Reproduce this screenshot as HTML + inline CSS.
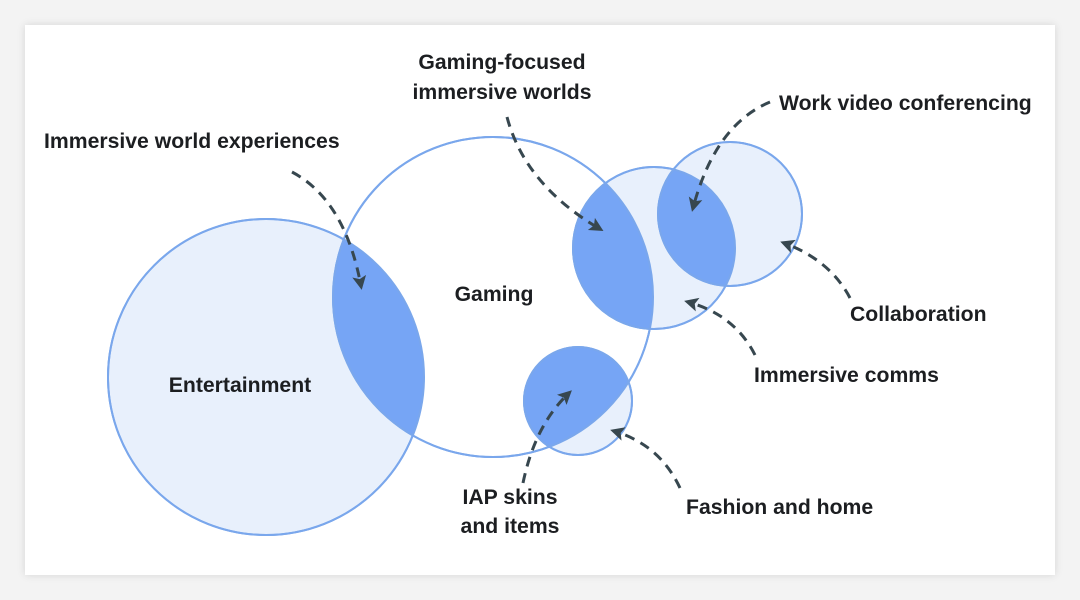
<!DOCTYPE html>
<html><head><style>
body{margin:0;width:1080px;height:600px;background:#f3f3f3;overflow:hidden}
.card{position:absolute;left:25px;top:25px;width:1030px;height:550px;background:#fff;box-shadow:0 0 8px rgba(0,0,0,0.12)}
svg{position:absolute;left:0;top:0}
text{font-family:"Liberation Sans",sans-serif;font-weight:bold;font-size:21.2px;fill:#1c1e21}
</style></head><body>
<div class="card"></div>
<svg width="1080" height="600" viewBox="0 0 1080 600">
<defs>
<clipPath id="cg"><circle cx="493" cy="297" r="160"/></clipPath>
<clipPath id="cc"><circle cx="654" cy="248" r="81"/></clipPath>
<marker id="ah" markerWidth="16" markerHeight="16" refX="10" refY="7" orient="auto" markerUnits="userSpaceOnUse"><path d="M0,0 L14,7 L0,14 L3,7 Z" fill="#37474f"/></marker>
</defs>
<g fill="#e8f0fc" stroke="#7aa7ec" stroke-width="2">
<circle cx="266" cy="377" r="158"/>
<circle cx="493" cy="297" r="160" fill="#fff"/>
<circle cx="654" cy="248" r="81"/>
<circle cx="730" cy="214" r="72"/>
<circle cx="578" cy="401" r="54"/>
</g>
<g fill="#76a5f5">
<circle cx="266" cy="377" r="158" clip-path="url(#cg)"/>
<circle cx="654" cy="248" r="81" clip-path="url(#cg)"/>
<circle cx="730" cy="214" r="72" clip-path="url(#cc)"/>
<circle cx="578" cy="401" r="54" clip-path="url(#cg)"/>
</g>
<g fill="none" stroke="#7aa7ec" stroke-width="2">
<circle cx="266" cy="377" r="158"/>
<circle cx="493" cy="297" r="160"/>
<circle cx="654" cy="248" r="81"/>
<circle cx="730" cy="214" r="72"/>
<circle cx="578" cy="401" r="54"/>
</g>
<g fill="none" stroke="#37474f" stroke-width="3" stroke-dasharray="10,7" marker-end="url(#ah)">
<path d="M292,172 Q345,200 361,286"/>
<path d="M507,117 Q525,185 600,229"/>
<path d="M770,102 Q715,125 693,208"/>
<path d="M850,298 Q830,260 784,243"/>
<path d="M755,355 Q735,315 688,302"/>
<path d="M523,483 Q535,425 569,393"/>
<path d="M680,488 Q660,445 614,431"/>
</g>
<text x="44" y="148">Immersive world experiences</text>
<text x="502" y="69" text-anchor="middle">Gaming-focused</text>
<text x="502" y="99" text-anchor="middle">immersive worlds</text>
<text x="779" y="110">Work video conferencing</text>
<text x="850" y="321">Collaboration</text>
<text x="754" y="382">Immersive comms</text>
<text x="686" y="514">Fashion and home</text>
<text x="510" y="504" text-anchor="middle">IAP skins</text>
<text x="510" y="533" text-anchor="middle">and items</text>
<text x="494" y="301" text-anchor="middle">Gaming</text>
<text x="240" y="392" text-anchor="middle">Entertainment</text>
</svg>
</body></html>
